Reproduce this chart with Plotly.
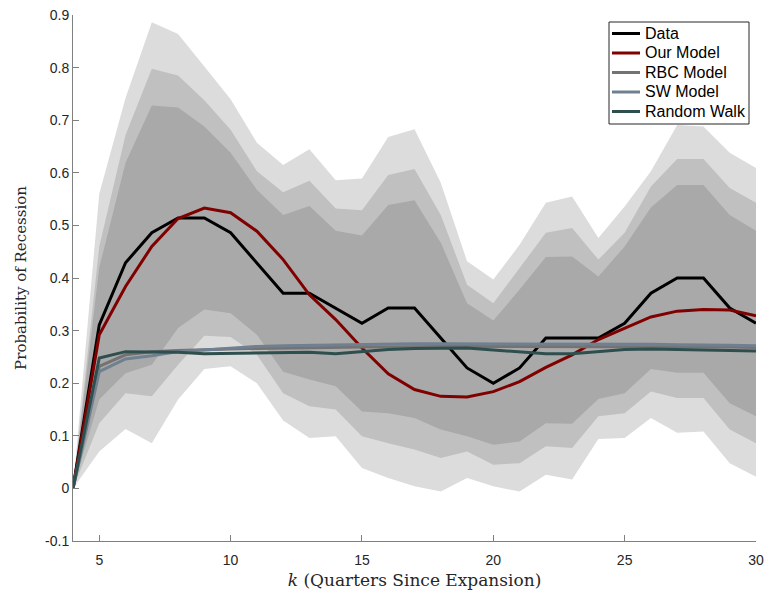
import plotly.graph_objects as go

k = list(range(4, 31))

data = [0, 0.311, 0.429, 0.486, 0.514, 0.514, 0.486, 0.429, 0.371, 0.371, 0.343, 0.314, 0.343, 0.343,
        0.286, 0.229, 0.200, 0.229, 0.286, 0.286, 0.286, 0.314, 0.371, 0.400, 0.400, 0.343, 0.314]
our_model = [0, 0.292, 0.384, 0.460, 0.513, 0.533, 0.524, 0.489, 0.435, 0.368, 0.321, 0.267, 0.218, 0.188,
             0.175, 0.174, 0.184, 0.203, 0.230, 0.254, 0.283, 0.305, 0.326, 0.337, 0.340, 0.339, 0.328]
rbc_model = [0, 0.232, 0.254, 0.260, 0.262, 0.264, 0.265, 0.266, 0.267, 0.268, 0.268, 0.269, 0.269, 0.270,
             0.270, 0.270, 0.270, 0.270, 0.270, 0.270, 0.270, 0.270, 0.270, 0.269, 0.269, 0.269, 0.268]
sw_model = [0, 0.222, 0.246, 0.252, 0.260, 0.263, 0.267, 0.270, 0.271, 0.272, 0.273, 0.273, 0.274, 0.275,
            0.275, 0.275, 0.274, 0.274, 0.274, 0.274, 0.274, 0.274, 0.274, 0.273, 0.273, 0.272, 0.271]
random_walk = [0, 0.248, 0.260, 0.260, 0.259, 0.256, 0.257, 0.258, 0.258, 0.259, 0.256, 0.260, 0.264, 0.266,
               0.267, 0.267, 0.263, 0.260, 0.256, 0.256, 0.260, 0.264, 0.265, 0.264, 0.263, 0.262, 0.261]

light_upper = [0, 0.56, 0.742, 0.886, 0.864, 0.802, 0.740, 0.657, 0.615, 0.645, 0.586, 0.589, 0.668, 0.683,
               0.581, 0.432, 0.397, 0.463, 0.543, 0.555, 0.476, 0.536, 0.603, 0.691, 0.688, 0.638, 0.609]
medium_upper = [0, 0.46, 0.672, 0.798, 0.785, 0.738, 0.682, 0.603, 0.563, 0.585, 0.532, 0.529, 0.596, 0.607,
                0.520, 0.387, 0.352, 0.419, 0.486, 0.495, 0.435, 0.486, 0.574, 0.626, 0.626, 0.571, 0.543]
dark_upper = [0, 0.42, 0.619, 0.728, 0.724, 0.688, 0.638, 0.568, 0.520, 0.537, 0.490, 0.481, 0.539, 0.548,
              0.467, 0.352, 0.319, 0.378, 0.440, 0.441, 0.403, 0.460, 0.534, 0.577, 0.577, 0.520, 0.490]
dark_lower = [0, 0.169, 0.219, 0.235, 0.305, 0.340, 0.333, 0.292, 0.222, 0.207, 0.194, 0.146, 0.143, 0.134,
              0.112, 0.099, 0.083, 0.089, 0.124, 0.123, 0.170, 0.181, 0.227, 0.220, 0.220, 0.162, 0.137]
medium_lower = [0, 0.124, 0.181, 0.175, 0.235, 0.290, 0.288, 0.254, 0.181, 0.156, 0.150, 0.099, 0.086, 0.074,
                0.058, 0.070, 0.045, 0.048, 0.080, 0.077, 0.137, 0.143, 0.184, 0.172, 0.172, 0.112, 0.086]
light_lower = [0, 0.070, 0.113, 0.086, 0.169, 0.227, 0.232, 0.200, 0.129, 0.096, 0.099, 0.039, 0.020, 0.004,
               -0.006, 0.020, 0.004, -0.006, 0.026, 0.017, 0.094, 0.096, 0.134, 0.106, 0.108, 0.048, 0.022]

x_ticks = [5, 10, 15, 20, 25, 30]
y_ticks = [-0.1, 0, 0.1, 0.2, 0.3, 0.4, 0.5, 0.6, 0.7, 0.8, 0.9]
y_tick_labels = ["-0.1", "0", "0.1", "0.2", "0.3", "0.4", "0.5", "0.6", "0.7", "0.8", "0.9"]

series_names = ["Data", "Our Model", "RBC Model", "SW Model", "Random Walk"]
series_values = [data, our_model, rbc_model, sw_model, random_walk]
series_colors = ["#000000", "#800000", "#737373", "#708090", "#2f4f4f"]

W, H = 766, 593
ML, MR, MT, MB = 73, 10, 15, 52
PW, PH = W - ML - MR, H - MT - MB


def px_x(p):
    return (p - ML) / PW


def px_y(p):
    return (H - MB - p) / PH


fig = go.Figure()

bands = [
    (light_upper, light_lower, "#dcdcdc"),
    (medium_upper, medium_lower, "#c0c0c0"),
    (dark_upper, dark_lower, "#a9a9a9"),
]
for up, lo, col in bands:
    fig.add_trace(go.Scatter(
        x=k + k[::-1], y=up + lo[::-1], fill="toself", fillcolor=col,
        mode="none", showlegend=False, hoverinfo="skip"))

for name, vals, col in zip(series_names, series_values, series_colors):
    fig.add_trace(go.Scatter(x=k, y=vals, mode="lines", name=name, showlegend=False,
                             line=dict(color=col, width=3)))

# Legend box (MATLAB style)
shapes = [dict(type="rect", xref="paper", yref="paper",
               x0=px_x(609), x1=px_x(749), y0=px_y(124), y1=px_y(22),
               fillcolor="white", line=dict(color="#262626", width=1), layer="above")]
annotations = []
for i, (name, col) in enumerate(zip(series_names, series_colors)):
    yc = 33.5 + 19.5 * i
    shapes.append(dict(type="line", xref="paper", yref="paper",
                       x0=px_x(612), x1=px_x(640), y0=px_y(yc), y1=px_y(yc),
                       line=dict(color=col, width=3), layer="above"))
    annotations.append(dict(xref="paper", yref="paper", x=px_x(643), y=px_y(yc),
                            xanchor="left", yanchor="middle", showarrow=False, text=name,
                            font=dict(family="Liberation Sans, Arial, sans-serif", size=16, color="#000000")))

serif = "DejaVu Serif, Liberation Serif, serif"
fig.update_layout(
    width=W, height=H,
    margin=dict(l=ML, r=MR, t=MT, b=MB),
    paper_bgcolor="white", plot_bgcolor="white",
    font=dict(family="Liberation Sans, Arial, sans-serif", size=14, color="#262626"),
    showlegend=False,
    shapes=shapes,
    annotations=annotations,
    xaxis=dict(range=[4, 30], tickvals=x_ticks, showgrid=False, zeroline=False,
               showline=True, linecolor="#808080", linewidth=1, automargin=False,
               ticks="inside", ticklen=6, tickcolor="#808080", ticklabelstandoff=6,
               title=dict(text="<i>k</i> (Quarters Since Expansion)",
                          font=dict(family=serif, size=17, color="#262626"),
                          standoff=7)),
    yaxis=dict(range=[-0.1, 0.9], tickvals=y_ticks, ticktext=y_tick_labels, showgrid=False,
               zeroline=False, showline=True, linecolor="#808080", linewidth=1, automargin=False,
               ticks="inside", ticklen=6, tickcolor="#808080",
               title=dict(text="Probability of Recession",
                          font=dict(family=serif, size=15, color="#262626"),
                          standoff=14)),
)

fig.write_html("out.html")
